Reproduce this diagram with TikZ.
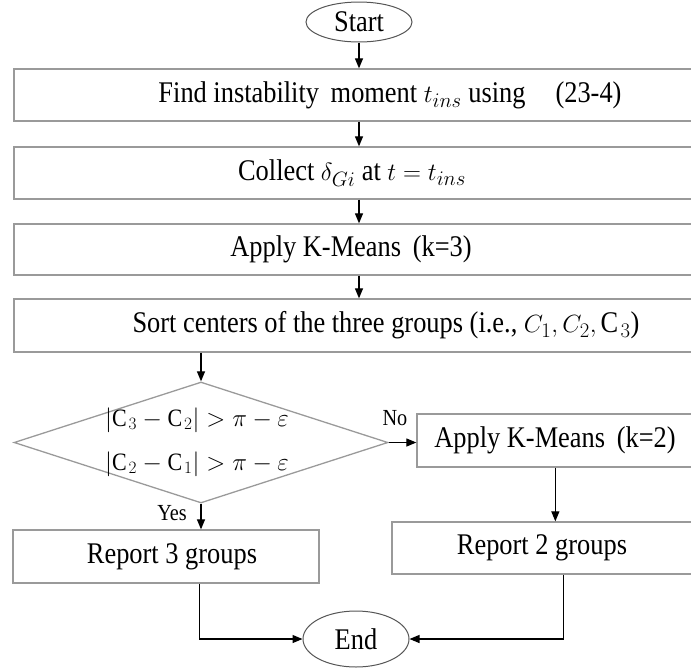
\documentclass[tikz,border=0pt]{standalone}
\usepackage{fontspec}
\setmainfont{Liberation Serif}[FakeStretch=0.88]
\usetikzlibrary{shapes.geometric,arrows.meta}
\definecolor{boxgray}{HTML}{9A9A9A}
\definecolor{termgray}{HTML}{555555}
\tikzset{
  box/.style={draw=boxgray, line width=1.3pt, rectangle, inner sep=0pt},
  term/.style={draw=termgray, line width=1pt, ellipse, inner sep=0pt, minimum width=106pt},
  lbl/.style={font=\fontsize{30}{36}\selectfont, inner sep=0pt},
  cond/.style={font=\fontsize{25}{30}\selectfont, inner sep=0pt},
  small/.style={font=\fontsize{23}{27}\selectfont, inner sep=0pt},
  arr/.style={draw=black, line width=1.2pt, -{Triangle[length=10pt,width=8pt]}},
}
\begin{document}
\begin{tikzpicture}[x=1pt,y=-1pt]
\useasboundingbox (0,0) rectangle (691,670);
\clip (0,0) rectangle (691,670);

% terminals
\node[term, lbl, minimum height=40pt] (start) at (359,22) {Start};
\node[term, lbl, minimum height=56pt] (end) at (356,639) {End};

% process boxes (running off the right edge)
\node[box, minimum width=766pt, minimum height=52pt] (b1) at (397,95) {};
\node[lbl] (t1) at (390,95) {Find instability\, moment $t_{ins}$ using\quad(23-4)};
\node[box, minimum width=766pt, minimum height=52pt] (b2) at (397,173) {};
\node[lbl] (t2) at (352,173) {Collect $\delta_{Gi}$ at $t=t_{ins}$};
\node[box, minimum width=766pt, minimum height=51pt] (b3) at (397,249.5) {};
\node[lbl] (t3) at (351,249.5) {Apply K-Means\, (k=3)};
\node[box, minimum width=766pt, minimum height=53pt] (b4) at (397,325.5) {};
\node[lbl] (t4) at (386,325.5) {Sort centers of the three groups (i.e., $C_1, C_2, \mathrm{C}_3$)};

% decision
\node[diamond, draw=boxgray, line width=1.3pt, inner sep=0pt,
      minimum width=374pt, minimum height=121pt] (dia) at (201,442.5) {};
\node[cond, align=center] (dt) at (197,442) {$|\mathrm{C}_3-\mathrm{C}_2|>\pi-\varepsilon$\\[14pt]$|\mathrm{C}_2-\mathrm{C}_1|>\pi-\varepsilon$};

% branches
\node[box, minimum width=363pt, minimum height=53pt] (b5) at (598.5,440.5) {};
\node[lbl] (t5) at (555,440.5) {Apply K-Means\, (k=2)};
\node[box, minimum width=388pt, minimum height=52pt] (b6) at (586,548) {};
\node[lbl] (t6) at (542,548) {Report 2 groups};
\node[box, minimum width=306pt, minimum height=53pt] (b7) at (166,556.5) {};
\node[lbl] (t7) at (172,556.5) {Report 3 groups};

\node[small] (no) at (395,418) {No};
\node[small] (yes) at (172,513) {Yes};

% connectors
\draw[arr] (start.south) -- (start.south |- b1.north);
\draw[arr] (b1.south -| start.south) -- (b2.north -| start.south);
\draw[arr] (b2.south -| start.south) -- (b3.north -| start.south);
\draw[arr] (b3.south -| start.south) -- (b4.north -| start.south);
\draw[arr] (b4.south -| dia.north) -- (dia.north);
\draw[arr] (dia.east) -- (dia.east -| b5.west);
\draw[arr] (dia.south) -- (dia.south |- b7.north);
\coordinate (k2out) at ([xshift=139pt]b5.south west);
\draw[arr] (k2out) -- (k2out |- b6.north);
\coordinate (r3out) at ([xshift=187pt]b7.south west);
\draw[arr] (r3out) |- (end.west);
\coordinate (r2out) at ([xshift=172pt]b6.south west);
\draw[arr] (r2out) |- (end.east);
\end{tikzpicture}
\end{document}
